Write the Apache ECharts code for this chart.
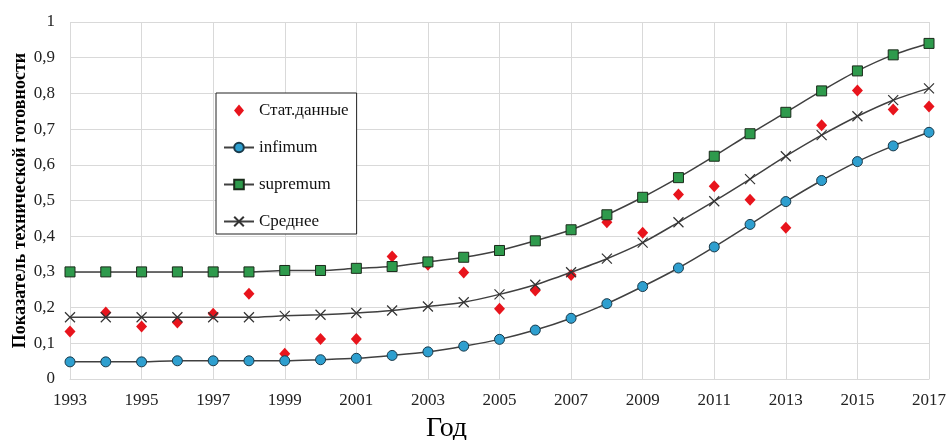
<!DOCTYPE html>
<html>
<head>
<meta charset="utf-8">
<script src="https://cdn.jsdelivr.net/npm/echarts@6/dist/echarts.min.js"></script>
<style>
  html, body { margin: 0; padding: 0; background: #fff; }
  #chart { width: 950px; height: 440px; }
</style>
</head>
<body>
<div id="chart"></div>
<script>
// Годы наблюдений
const years = ['1993','1994','1995','1996','1997','1998','1999','2000','2001','2002','2003','2004','2005',
               '2006','2007','2008','2009','2010','2011','2012','2013','2014','2015','2016','2017'];

// Статистические данные
const statData = [0.133,0.186,0.147,0.158,0.183,0.239,0.071,0.112,0.112,0.343,0.320,0.298,0.197,
                  0.248,0.291,0.439,0.410,0.517,0.540,0.502,0.424,0.711,0.808,0.755,0.763];
// Нижняя граница
const infimum = [0.048,0.048,0.048,0.051,0.051,0.051,0.051,0.054,0.058,0.066,0.076,0.092,0.111,
                 0.137,0.170,0.211,0.259,0.311,0.370,0.433,0.497,0.556,0.609,0.653,0.691];
// Верхняя граница
const supremum = [0.300,0.300,0.300,0.300,0.300,0.300,0.304,0.304,0.310,0.315,0.328,0.341,0.360,
                  0.387,0.418,0.460,0.509,0.564,0.624,0.687,0.747,0.807,0.863,0.908,0.940];
// Среднее
const meanVals = [0.173,0.173,0.173,0.173,0.173,0.173,0.177,0.180,0.185,0.192,0.203,0.215,0.237,
                  0.264,0.299,0.337,0.382,0.439,0.498,0.560,0.624,0.683,0.736,0.781,0.814];

const seriesNames = ['Стат.данные', 'infimum', 'supremum', 'Среднее'];

const FONT = '"Liberation Serif", "DejaVu Serif", serif';
const lineColor = '#404040';
const statColor = '#e8141c';
// ромб с сохранением пропорций (и в легенде, и на графике)
const diamondPath = 'path://M5,0L10,6L5,12L0,6Z';

const chart = echarts.init(document.getElementById('chart'), null, { renderer: 'canvas' });

chart.setOption({
  animation: false,
  backgroundColor: '#fff',
  textStyle: { fontFamily: FONT },
  grid: { left: 70, right: 21, top: 22, bottom: 61, containLabel: false, outerBoundsMode: 'none' },
  legend: {
    orient: 'vertical',
    left: 216,
    top: 93,
    data: [
      { name: seriesNames[0], icon: diamondPath, itemStyle: { color: statColor, opacity: 1 } },
      seriesNames[1], seriesNames[2], seriesNames[3]
    ],
    symbolKeepAspect: true,
    backgroundColor: '#fff',
    borderColor: '#222',
    borderWidth: 1,
    padding: [9, 8, 4, 7],
    itemGap: 20,
    itemWidth: 30,
    itemHeight: 12,
    textStyle: { fontFamily: FONT, fontSize: 17, color: '#111' }
  },
  xAxis: {
    type: 'category',
    data: years,
    boundaryGap: false,
    name: 'Год',
    nameLocation: 'middle',
    nameGap: 36,
    nameMoveOverlap: false,
    nameTextStyle: { fontFamily: FONT, fontSize: 28, color: '#000', padding: [0, 106, 0, 0] },
    axisLine: { lineStyle: { color: '#d9d9d9', width: 1 } },
    axisTick: { show: false },
    axisLabel: { interval: 1, margin: 13, fontFamily: FONT, fontSize: 17, color: '#222' },
    splitLine: { show: true, interval: 1, lineStyle: { color: '#d9d9d9', width: 1 } }
  },
  yAxis: {
    type: 'value',
    min: 0,
    max: 1,
    interval: 0.1,
    name: 'Показатель технической готовности',
    nameLocation: 'middle',
    nameGap: 41,
    nameMoveOverlap: false,
    nameTextStyle: { fontFamily: FONT, fontSize: 18, fontWeight: 'bold', color: '#000' },
    axisLine: { show: false },
    axisTick: { show: false },
    axisLabel: {
      margin: 15,
      fontFamily: FONT,
      fontSize: 17,
      color: '#222',
      formatter: v => String(Math.round(v * 10) / 10).replace('.', ',')
    },
    splitLine: { show: true, lineStyle: { color: '#d9d9d9', width: 1 } }
  },
  series: [
    {
      name: seriesNames[0],
      type: 'scatter',
      data: statData,
      symbol: diamondPath,
      symbolSize: [11, 12],
      itemStyle: { color: statColor, opacity: 1 },
      z: 2
    },
    {
      name: seriesNames[1],
      type: 'line',
      data: infimum,
      smooth: 0.3,
      symbol: 'circle',
      symbolSize: 10,
      lineStyle: { color: lineColor, width: 1.5 },
      itemStyle: { color: '#2e9fcf', borderColor: '#1a3a4a', borderWidth: 1 },
      z: 3
    },
    {
      name: seriesNames[2],
      type: 'line',
      data: supremum,
      smooth: 0.3,
      symbol: 'rect',
      symbolSize: 10,
      lineStyle: { color: lineColor, width: 1.5 },
      itemStyle: { color: '#2e9a4c', borderColor: '#1a2a1a', borderWidth: 1 },
      z: 3
    },
    {
      name: seriesNames[3],
      type: 'line',
      data: meanVals,
      smooth: 0.3,
      symbol: 'path://M0,0L10,10M10,0L0,10',
      symbolSize: 10,
      lineStyle: { color: lineColor, width: 1.5 },
      itemStyle: { color: 'none', borderColor: '#333', borderWidth: 1.2 },
      z: 3
    }
  ]
});
</script>
</body>
</html>
